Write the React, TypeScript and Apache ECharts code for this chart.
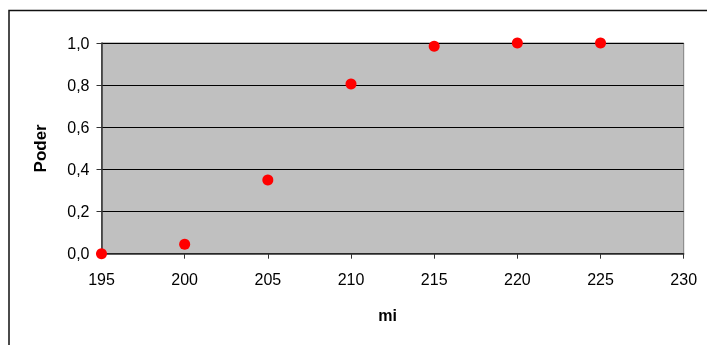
import React, { useEffect, useRef } from "react";
import * as echarts from "echarts";

const mi = [195, 200, 205, 210, 215, 220, 225];
const poder = [0, 0.045, 0.35, 0.805, 0.985, 1.0, 1.0];

export default function App() {
  const ref = useRef<HTMLDivElement>(null);
  useEffect(() => {
    const chart = echarts.init(ref.current!, null, { renderer: "svg" });
    const font = "'Liberation Sans', Arial, sans-serif";
    chart.setOption({
      animation: false,
      textStyle: { fontFamily: font },
      graphic: [
        {
          type: "rect",
          shape: { x: 9, y: 10.5, width: 720, height: 360 },
          style: { fill: "none", stroke: "#111", lineWidth: 1.5 },
          silent: true,
        },
      ],
      grid: {
        left: 101.5,
        right: 23.3,
        top: 43,
        bottom: 91.3,
        show: true,
        backgroundColor: "#C0C0C0",
        borderColor: "#808080",
        borderWidth: 1,
      },
      xAxis: {
        type: "value",
        min: 195,
        max: 230,
        interval: 5,
        name: "mi",
        nameLocation: "middle",
        nameGap: 54,
        nameTextStyle: { fontSize: 16, fontWeight: "bold", color: "#000", fontFamily: font, padding: [0, 10, 0, 0] },
        axisLine: { show: true, onZero: false, lineStyle: { color: "#333", width: 1.5 } },
        axisTick: { show: true, inside: false, length: 5, lineStyle: { color: "#333" } },
        axisLabel: { fontSize: 16, color: "#000", margin: 18, fontFamily: font },
        splitLine: { show: false },
      },
      yAxis: {
        type: "value",
        min: 0,
        max: 1,
        interval: 0.2,
        name: "Poder",
        nameLocation: "middle",
        nameGap: 53,
        nameTextStyle: { fontSize: 17, fontWeight: "bold", color: "#000", fontFamily: font },
        axisLine: { show: true, lineStyle: { color: "#333", width: 1.5 } },
        axisTick: { show: true, inside: false, length: 5, lineStyle: { color: "#333" } },
        axisLabel: {
          fontSize: 16,
          color: "#000",
          margin: 12,
          fontFamily: font,
          formatter: (v: number) => v.toFixed(1).replace(".", ","),
        },
        splitLine: { show: true, lineStyle: { color: "#000", width: 1 } },
      },
      series: [
        {
          type: "scatter",
          data: mi.map((m, i) => [m, poder[i]]),
          symbol: "circle",
          symbolSize: 11,
          itemStyle: { color: "#FF0000", opacity: 1 },
          clip: false,
        },
      ],
    });
    return () => chart.dispose();
  }, []);
  return <div ref={ref} style={{ position: "fixed", left: 0, top: 0, width: 707, height: 345 }} />;
}
